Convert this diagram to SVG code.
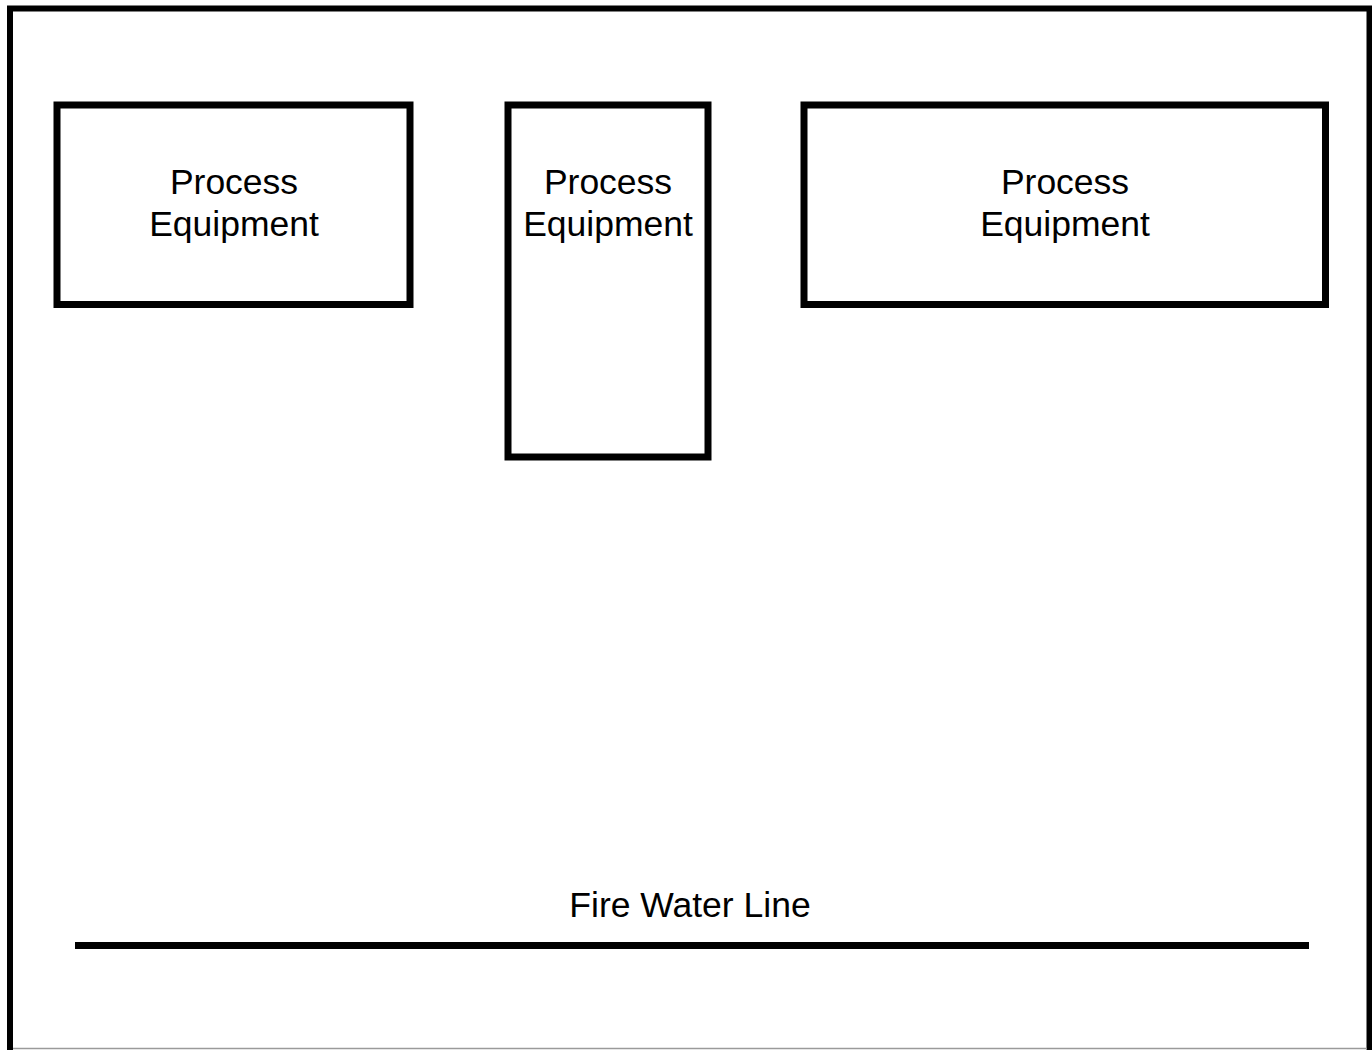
<svg xmlns="http://www.w3.org/2000/svg" width="1372" height="1050" viewBox="0 0 1372 1050">
  <style>
    .box { fill: #ffffff; stroke: #000000; stroke-width: 7; }
    .lbl { font-family: "Liberation Sans", Arial, sans-serif; font-size: 35.5px; fill: #000000; text-anchor: middle; }
    .pipe { stroke: #000000; stroke-width: 7; fill: none; }
  </style>
  <rect x="0" y="0" width="1372" height="1050" fill="#ffffff"/>
  <g id="site-boundary">
    <rect x="10" y="8.5" width="1359.5" height="1100" fill="none" stroke="#000000" stroke-width="6"/>
    <line x1="13" y1="1048.5" x2="1367" y2="1048.5" stroke="#9a9a9a" stroke-width="1.5"/>
  </g>
  <g id="equipment-1">
    <rect class="box" x="57" y="105" width="353" height="199.5"/>
    <text class="lbl" x="234" y="194">Process</text>
    <text class="lbl" x="234" y="235.5">Equipment</text>
  </g>
  <g id="equipment-2">
    <rect class="box" x="508" y="105" width="200" height="352"/>
    <text class="lbl" x="608" y="194">Process</text>
    <text class="lbl" x="608" y="235.5">Equipment</text>
  </g>
  <g id="equipment-3">
    <rect class="box" x="804" y="105" width="521.5" height="199.5"/>
    <text class="lbl" x="1065" y="194">Process</text>
    <text class="lbl" x="1065" y="235.5">Equipment</text>
  </g>
  <g id="connectors">
    <line class="pipe" x1="75" y1="945.5" x2="1309" y2="945.5"/>
  </g>
  <g id="fire-water-line-label">
    <text class="lbl" x="690" y="917">Fire Water Line</text>
  </g>
</svg>
